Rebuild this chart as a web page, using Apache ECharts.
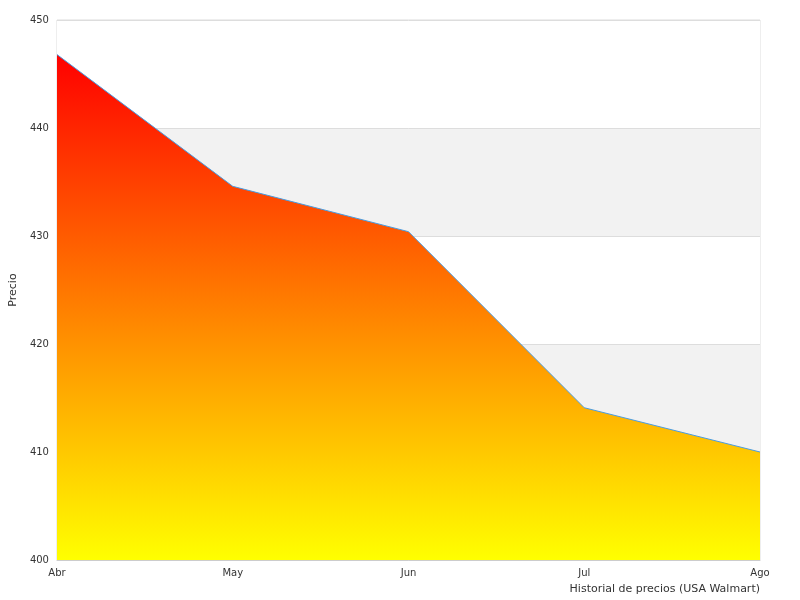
<!DOCTYPE html>
<html><head><meta charset="utf-8">
<script src="https://cdn.jsdelivr.net/npm/echarts@6/dist/echarts.min.js"></script>
<style>html,body{margin:0;padding:0;background:#fff}#c{width:800px;height:600px}</style>
</head><body><div id="c"></div>
<script>
var months = ['Abr', 'May', 'Jun', 'Jul', 'Ago'];
var prices = [446.8, 434.6, 430.4, 414.1, 410.0];
var yTicks = {min: 400, max: 450, step: 10};

var chart = echarts.init(document.getElementById('c'));
chart.setOption({
  animation: false,
  textStyle: {fontFamily: 'DejaVu Sans'},
  grid: {left: 40, right: 40, top: 20, bottom: 40, show: true, borderColor: '#dddddd', borderWidth: 1},
  xAxis: {
    type: 'category', data: months, boundaryGap: false,
    name: 'Historial de precios (USA Walmart)', nameLocation: 'end',
    nameGap: 0, nameTextStyle: {align: 'right', verticalAlign: 'top', padding: [24, 0, 0, 0], color: '#333', fontSize: 11},
    axisLine: {lineStyle: {color: '#cccccc'}}, axisTick: {show: false},
    axisLabel: {color: '#333', fontSize: 10, margin: 8, showMaxLabel: true}
  },
  yAxis: {
    type: 'value', min: yTicks.min, max: yTicks.max, interval: yTicks.step,
    name: 'Precio', nameLocation: 'middle', nameGap: 28, nameRotate: 90,
    nameTextStyle: {color: '#333', fontSize: 11},
    axisLine: {show: false}, axisTick: {show: false},
    axisLabel: {color: '#333', fontSize: 10, margin: 8},
    splitLine: {lineStyle: {color: '#dddddd'}},
    splitArea: {show: true, areaStyle: {color: ['#ffffff', '#f2f2f2']}}
  },
  series: [{
    type: 'line', data: prices, symbol: 'none',
    lineStyle: {color: '#4a9ce0', width: 1},
    areaStyle: {opacity: 1, color: new echarts.graphic.LinearGradient(0, 0, 0, 1, [
      {offset: 0, color: '#ff0000'}, {offset: 1, color: '#ffff00'}])}
  }]
});
</script></body></html>
